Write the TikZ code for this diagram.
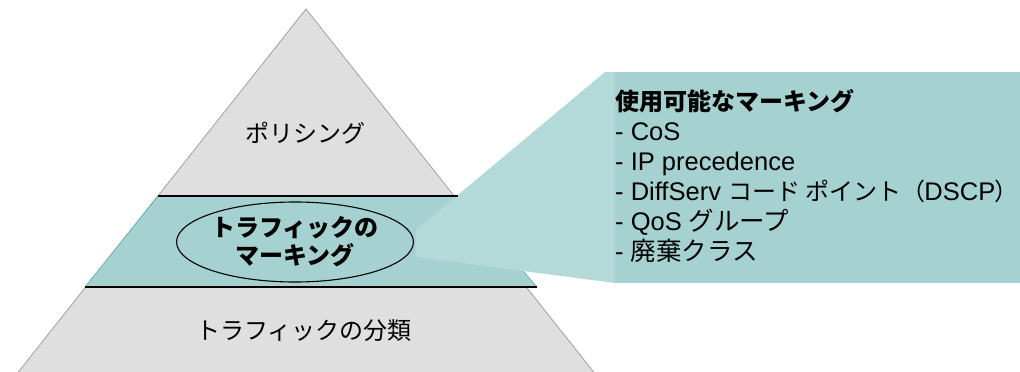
\documentclass[tikz,border=0pt]{standalone}
\usepackage{fontspec}
\setmainfont{Liberation Sans}
\newfontfamily\jp{Noto Sans CJK JP}
\newfontfamily\jpp{Noto Sans CJK JP}[RawFeature=+palt]
\usetikzlibrary{shapes.geometric}
\definecolor{pyrgray}{HTML}{DFDFDF}
\definecolor{pyredge}{HTML}{A0A0A0}
\definecolor{bandteal}{HTML}{A6D1D1}
\definecolor{bandedge}{HTML}{5FAAAA}
\definecolor{ptrteal}{HTML}{B3D9D9}
\tikzset{
  pyrlabel/.style={font=\jp\fontsize{24}{28}\selectfont, inner sep=0pt},
  boxline/.style={anchor=base west, inner sep=0pt, font=\fontsize{25.5}{30}\selectfont},
  bandline/.style={line width=2pt, black},
}
\begin{document}
\begin{tikzpicture}[x=1pt,y=-1pt]
\useasboundingbox (0,0) rectangle (1020,372);
\begin{scope}
\clip (0,0) rectangle (1020,372);
% pyramid
\fill[pyrgray, draw=pyredge, line width=0.8pt] (306,9) -- (600,380) -- (12,380) -- cycle;
\end{scope}
% marking band
\fill[bandteal, draw=bandedge, line width=0.6pt] (158,196) -- (458,196) -- (537,287) -- (85,287) -- cycle;
\coordinate (tl) at (158,196);
\coordinate (tr) at (458,196);
\coordinate (bl) at (85,287);
\coordinate (br) at (537,287);
% ellipse with label
\node[ellipse, draw=black, line width=1.1pt, minimum width=236pt, minimum height=80pt, inner sep=0pt, align=center,
      font=\jp\bfseries\fontsize{24}{28}\selectfont] (mark) at (295,242) {トラフィックの\\マーキング};
% callout pointer and box
\fill[ptrteal] (416,230) -- (605,72) -- (615,72) -- (615,283) -- (416,257) -- cycle;
\fill[bandteal] (615,72) rectangle (1020,283);
\draw[bandline] (tl) -- (tr);
\draw[bandline] (bl) -- (br);
% pyramid labels
\node[pyrlabel] (pol) at (305,133) {ポリシング};
\node[pyrlabel] (cls) at (304,331) {トラフィックの分類};
% box text
\node[boxline, font=\jp\bfseries\fontsize{24}{30}\selectfont] (t0) at (615,110) {使用可能なマーキング};
\node[boxline] (t1) at (615,140) {- CoS};
\node[boxline] (t2) at (615,170) {- IP precedence};
\node[boxline] (t3) at (615,200) {- DiffServ {\jp\fontsize{24}{30}\selectfont コード ポイント}\hspace{11pt}{\jpp\fontsize{24}{30}\selectfont （}DSCP{\jpp\fontsize{24}{30}\selectfont ）}};
\node[boxline] (t4) at (615,230) {- QoS {\jp グループ}};
\node[boxline] (t5) at (615,260) {- {\jp 廃棄クラス}};
\end{tikzpicture}
\end{document}
